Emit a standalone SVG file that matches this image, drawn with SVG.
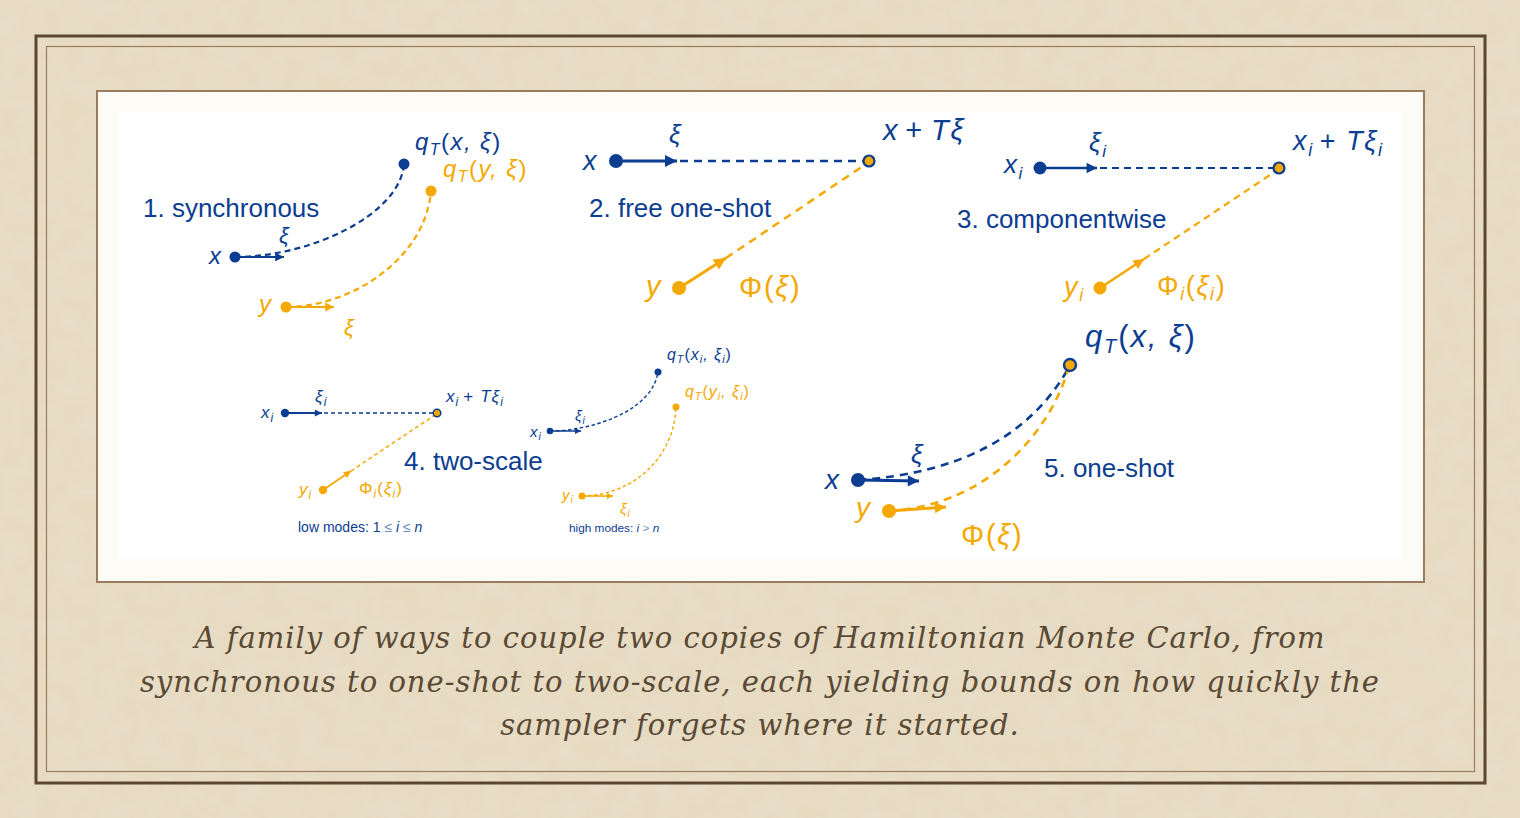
<svg xmlns="http://www.w3.org/2000/svg" width="1520" height="818" viewBox="0 0 1520 818">
<defs>
<filter id="paper" x="0" y="0" width="100%" height="100%">
<feTurbulence type="fractalNoise" baseFrequency="0.05" numOctaves="3" seed="3" result="n"/>
<feColorMatrix in="n" type="matrix" values="0 0 0 0 0.88  0 0 0 0 0.835  0 0 0 0 0.74  0 0 0 0.9 -0.2" result="c"/>
<feComposite in="c" in2="SourceGraphic" operator="over"/>
</filter>
<marker id="hb" viewBox="0 0 10 10" refX="10" refY="5" markerWidth="6" markerHeight="4" orient="auto" markerUnits="strokeWidth"><path d="M0,0 L10,5 L0,10 z" fill="#0b3d91"/></marker>
<marker id="ho" viewBox="0 0 10 10" refX="10" refY="5" markerWidth="6" markerHeight="4" orient="auto" markerUnits="strokeWidth"><path d="M0,0 L10,5 L0,10 z" fill="#f5a800"/></marker>
</defs>
<style>
.b{fill:#0b3d91}
.o{fill:#f5a800}
.t{font-family:"Liberation Sans",Arial,sans-serif;font-size:26px;fill:#0b3d91}
.m{font-family:"Liberation Sans",Arial,sans-serif;font-style:italic;letter-spacing:0.06em}
.u{font-style:normal}
.sb{stroke:#0b3d91;fill:none}
.so{stroke:#f5a800;fill:none}
.cap{font-family:"DejaVu Serif",serif;font-style:italic;font-size:29px;letter-spacing:1px;fill:#5a4934;text-anchor:middle}
</style>
<rect x="0" y="0" width="1520" height="818" fill="#e6dac1"/>
<rect x="0" y="0" width="1520" height="818" fill="#e6dac1" filter="url(#paper)" opacity="0.35"/>
<rect x="36" y="36" width="1449" height="747" fill="none" stroke="#5c4630" stroke-width="3"/>
<rect x="46.5" y="46.5" width="1428" height="725" fill="none" stroke="#9c7d5e" stroke-width="1.2"/>
<rect x="97" y="91" width="1327" height="491" fill="#fdfbf5" stroke="#9a7b5b" stroke-width="2"/>
<rect x="118" y="112" width="1284" height="447" fill="#ffffff"/>

<g id="connectors">
<!-- panel 1 -->
<path class="sb" d="M235,257 C310,257 400,215 404,164" stroke-width="2.2" stroke-dasharray="6,4"/>
<line class="sb" x1="235" y1="257" x2="284" y2="257" stroke-width="2.2" marker-end="url(#hb)"/>
<path class="so" d="M286,307 C350,307 425,260 431,191" stroke-width="2.2" stroke-dasharray="6,4"/>
<line class="so" x1="286" y1="307" x2="334" y2="307" stroke-width="2.2" marker-end="url(#ho)"/>
<!-- panel 2 -->
<line class="sb" x1="616" y1="161" x2="677" y2="161" stroke-width="3" marker-end="url(#hb)"/>
<line class="sb" x1="680" y1="161" x2="864" y2="161" stroke-width="2.5" stroke-dasharray="8,6"/>
<line class="so" x1="679" y1="288" x2="726" y2="258" stroke-width="3" marker-end="url(#ho)"/>
<line class="so" x1="726" y1="258" x2="866" y2="164" stroke-width="2.5" stroke-dasharray="8,6"/>
<!-- panel 3 -->
<line class="sb" x1="1040" y1="168" x2="1097" y2="168" stroke-width="2.6" marker-end="url(#hb)"/>
<line class="sb" x1="1100" y1="168" x2="1274" y2="168" stroke-width="2.2" stroke-dasharray="7,5"/>
<line class="so" x1="1100" y1="288" x2="1144" y2="259" stroke-width="2.6" marker-end="url(#ho)"/>
<line class="so" x1="1144" y1="259" x2="1276" y2="171" stroke-width="2.2" stroke-dasharray="7,5"/>
<!-- panel 4 low -->
<line class="sb" x1="285" y1="413" x2="322" y2="413" stroke-width="1.8" marker-end="url(#hb)"/>
<line class="sb" x1="324" y1="413" x2="434" y2="413" stroke-width="1.5" stroke-dasharray="4,3"/>
<line class="so" x1="323" y1="490" x2="351" y2="471" stroke-width="1.8" marker-end="url(#ho)"/>
<line class="so" x1="351" y1="471" x2="435" y2="415" stroke-width="1.5" stroke-dasharray="4,3"/>
<!-- panel 4 high -->
<path class="sb" d="M550,431 C590,431 652,412 658,372" stroke-width="1.4" stroke-dasharray="3.5,2.5"/>
<line class="sb" x1="550" y1="431" x2="581" y2="431" stroke-width="1.5" marker-end="url(#hb)"/>
<path class="so" d="M582,496 C630,496 674,460 676,407" stroke-width="1.4" stroke-dasharray="3.5,2.5"/>
<line class="so" x1="582" y1="496" x2="613" y2="496" stroke-width="1.5" marker-end="url(#ho)"/>
<!-- panel 5 -->
<path class="sb" d="M858,480 Q1010,470 1068,369" stroke-width="2.6" stroke-dasharray="8,6"/>
<line class="sb" x1="858" y1="480" x2="919" y2="481" stroke-width="2.8" marker-end="url(#hb)"/>
<path class="so" d="M889,511 C990,505 1050,430 1068,370" stroke-width="2.6" stroke-dasharray="8,6"/>
<line class="so" x1="889" y1="511" x2="946" y2="507" stroke-width="2.8" marker-end="url(#ho)"/>
</g>

<g id="panel1">
<text class="t" x="143" y="217">1. synchronous</text>
<circle class="b" cx="235" cy="257" r="5.5"/>
<text class="m b" x="209" y="264" font-size="24">x</text>
<text class="m b" x="279" y="243" font-size="22">ξ</text>
<circle class="b" cx="404" cy="164" r="5.5"/>
<text class="m b" x="415" y="150" font-size="24">q<tspan font-size="16" dy="5">T</tspan><tspan class="u" dy="-5">(</tspan>x, ξ<tspan class="u">)</tspan></text>
<circle class="o" cx="286" cy="307" r="5.5"/>
<text class="m o" x="259" y="312" font-size="24">y</text>
<text class="m o" x="344" y="335" font-size="22">ξ</text>
<circle class="o" cx="431" cy="191" r="5.5"/>
<text class="m o" x="443" y="177" font-size="24">q<tspan font-size="16" dy="5">T</tspan><tspan class="u" dy="-5">(</tspan>y, ξ<tspan class="u">)</tspan></text>
</g>

<g id="panel2">
<text class="t" x="589" y="217">2. free one-shot</text>
<circle class="b" cx="616" cy="161" r="7"/>
<text class="m b" x="583" y="170" font-size="27">x</text>
<text class="m b" x="669" y="143" font-size="26">ξ</text>
<circle cx="869" cy="161" r="5.5" fill="#f5a800" stroke="#0b3d91" stroke-width="2.2"/>
<text class="m b" x="883" y="140" font-size="29">x<tspan class="u" dx="6">+</tspan><tspan dx="7">Tξ</tspan></text>
<circle class="o" cx="679" cy="288" r="7"/>
<text class="m o" x="646" y="296" font-size="29">y</text>
<text class="m o" x="739" y="297" font-size="29"><tspan class="u">Φ(</tspan>ξ<tspan class="u">)</tspan></text>
</g>

<g id="panel3">
<text class="t" x="957" y="228">3. componentwise</text>
<circle class="b" cx="1040" cy="168" r="6.5"/>
<text class="m b" x="1004" y="173" font-size="26">x<tspan font-size="17" dy="6">i</tspan></text>
<text class="m b" x="1089" y="151" font-size="26">ξ<tspan font-size="17" dy="6">i</tspan></text>
<circle cx="1279" cy="168" r="5.5" fill="#f5a800" stroke="#0b3d91" stroke-width="2.2"/>
<text class="m b" x="1293" y="150" font-size="27">x<tspan font-size="18" dy="6">i</tspan><tspan class="u" dy="-6" dx="6">+</tspan><tspan dx="9">Tξ</tspan><tspan font-size="18" dy="6">i</tspan></text>
<circle class="o" cx="1100" cy="288" r="6.5"/>
<text class="m o" x="1064" y="296" font-size="27">y<tspan font-size="18" dy="5">i</tspan></text>
<text class="m o" x="1157" y="295" font-size="27"><tspan class="u">Φ</tspan><tspan font-size="18" dy="5">i</tspan><tspan class="u" dy="-5">(</tspan>ξ<tspan font-size="18" dy="5">i</tspan><tspan class="u" dy="-5">)</tspan></text>
</g>

<g id="panel4">
<text class="t" x="404" y="470">4. two-scale</text>
<circle class="b" cx="285" cy="413" r="4.2"/>
<text class="m b" x="261" y="418" font-size="17">x<tspan font-size="12" dy="4">i</tspan></text>
<text class="m b" x="315" y="402" font-size="17">ξ<tspan font-size="12" dy="4">i</tspan></text>
<circle cx="437" cy="413" r="3.8" fill="#f5a800" stroke="#0b3d91" stroke-width="1.5"/>
<text class="m b" x="446" y="402" font-size="17">x<tspan font-size="12" dy="4">i</tspan><tspan class="u" dy="-4" dx="4">+</tspan><tspan dx="6">Tξ</tspan><tspan font-size="12" dy="4">i</tspan></text>
<circle class="o" cx="323" cy="490" r="4.2"/>
<text class="m o" x="299" y="495" font-size="17">y<tspan font-size="12" dy="4">i</tspan></text>
<text class="m o" x="359" y="494" font-size="17"><tspan class="u">Φ</tspan><tspan font-size="12" dy="4">i</tspan><tspan class="u" dy="-4">(</tspan>ξ<tspan font-size="12" dy="4">i</tspan><tspan class="u" dy="-4">)</tspan></text>
<text x="298" y="532" font-family="Liberation Sans, Arial, sans-serif" font-size="14" fill="#0b3d91">low modes: 1 <tspan fill="#6f8fc4">≤</tspan> <tspan font-style="italic">i</tspan> <tspan fill="#6f8fc4">≤</tspan> <tspan font-style="italic">n</tspan></text>

<circle class="b" cx="550" cy="431" r="3.3"/>
<text class="m b" x="530" y="437" font-size="15">x<tspan font-size="10" dy="3">i</tspan></text>
<text class="m b" x="575" y="421" font-size="15">ξ<tspan font-size="10" dy="3">i</tspan></text>
<circle class="b" cx="658" cy="372" r="3.5"/>
<text class="m b" x="667" y="360" font-size="16">q<tspan font-size="11" dy="3">T</tspan><tspan class="u" dy="-3">(</tspan>x<tspan font-size="11" dy="3">i</tspan><tspan dy="-3">, ξ</tspan><tspan font-size="11" dy="3">i</tspan><tspan class="u" dy="-3">)</tspan></text>
<circle class="o" cx="582" cy="496" r="3.5"/>
<text class="m o" x="562" y="500" font-size="15">y<tspan font-size="10" dy="3">i</tspan></text>
<text class="m o" x="620" y="514" font-size="15">ξ<tspan font-size="10" dy="3">i</tspan></text>
<circle class="o" cx="676" cy="407" r="3.5"/>
<text class="m o" x="685" y="397" font-size="16">q<tspan font-size="11" dy="3">T</tspan><tspan class="u" dy="-3">(</tspan>y<tspan font-size="11" dy="3">i</tspan><tspan dy="-3">, ξ</tspan><tspan font-size="11" dy="3">i</tspan><tspan class="u" dy="-3">)</tspan></text>
<text x="569" y="532" font-family="Liberation Sans, Arial, sans-serif" font-size="11.8" fill="#0b3d91">high modes: <tspan font-style="italic">i</tspan> <tspan fill="#6f8fc4">&gt;</tspan> <tspan font-style="italic">n</tspan></text>
</g>

<g id="panel5">
<text class="t" x="1044" y="477">5. one-shot</text>
<circle class="b" cx="858" cy="480" r="7"/>
<text class="m b" x="825" y="489" font-size="28">x</text>
<text class="m b" x="911" y="463" font-size="26">ξ</text>
<circle cx="1070" cy="365" r="6" fill="#f5a800" stroke="#0b3d91" stroke-width="2.4"/>
<text class="m b" x="1085" y="347" font-size="31">q<tspan font-size="20" dy="6">T</tspan><tspan class="u" dy="-6">(</tspan>x, ξ<tspan class="u">)</tspan></text>
<circle class="o" cx="889" cy="511" r="7"/>
<text class="m o" x="856" y="517" font-size="28">y</text>
<text class="m o" x="961" y="545" font-size="29"><tspan class="u">Φ(</tspan>ξ<tspan class="u">)</tspan></text>
</g>

<g id="caption">
<text class="cap" x="760" y="648">A family of ways to couple two copies of Hamiltonian Monte Carlo, from</text>
<text class="cap" x="760" y="692">synchronous to one-shot to two-scale, each yielding bounds on how quickly the</text>
<text class="cap" x="760" y="735">sampler forgets where it started.</text>
</g>
</svg>
